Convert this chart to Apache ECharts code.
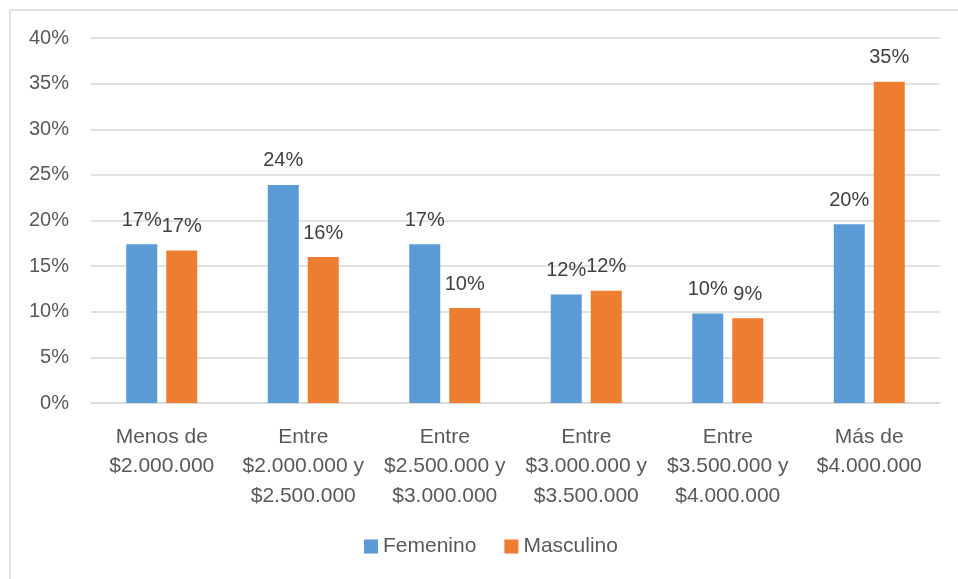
<!DOCTYPE html>
<head>
    <meta charset="utf-8">
    <title>Ingresos por sexo</title>
    <script src="https://cdn.jsdelivr.net/npm/echarts@6/dist/echarts.min.js"></script>
</head>
<body style="margin:0">
<div id="main" style="width:958px;height:579px"></div>
<script type="text/javascript">
var categories = ['Menos de\n$2.000.000', 'Entre\n$2.000.000 y\n$2.500.000', 'Entre\n$2.500.000 y\n$3.000.000',
                  'Entre\n$3.000.000 y\n$3.500.000', 'Entre\n$3.500.000 y\n$4.000.000', 'Más de\n$4.000.000'];
var femenino = [17.4, 23.9, 17.4, 11.9, 9.8, 19.6];
var masculino = [16.7, 16.0, 10.4, 12.3, 9.3, 35.2];
var yTicks = [0, 5, 10, 15, 20, 25, 30, 35, 40];

var font = 'Liberation Sans, sans-serif';
var myChart = echarts.init(document.getElementById('main'));
var option = {
    animation: false,
    backgroundColor: '#fff',
    graphic: [{
        type: 'rect', shape: {x: 10, y: 10, width: 960, height: 580},
        style: {fill: 'none', stroke: '#d9d9d9', lineWidth: 1.5}, silent: true
    }],
    grid: {left: 91, right: 18, top: 38, bottom: 176},
    legend: {
        top: 531, left: 359, itemWidth: 14, itemHeight: 14, itemGap: 28,
        icon: 'rect',
        textStyle: {fontFamily: font, fontSize: 21, color: '#595959'},
        data: ['Femenino', 'Masculino']
    },
    xAxis: {
        type: 'category',
        data: categories,
        axisLine: {lineStyle: {color: '#d9d9d9', width: 1.5}},
        axisTick: {show: false},
        axisLabel: {fontFamily: font, fontSize: 21, color: '#595959', lineHeight: 29.5, margin: 19, interval: 0}
    },
    yAxis: {
        type: 'value', min: 0, max: 40, interval: 5,
        axisLabel: {fontFamily: font, fontSize: 20, color: '#595959', margin: 22,
            formatter: function (v) { return yTicks.indexOf(v) >= 0 ? v + '%' : ''; }},
        splitLine: {lineStyle: {color: '#d9d9d9', width: 1.5}}
    },
    series: [
        {
            name: 'Femenino', type: 'bar', data: femenino, barWidth: 31, barGap: '29%',
            itemStyle: {color: '#5b9bd5'},
            label: {show: true, position: 'top', distance: 14, fontFamily: font, fontSize: 20, color: '#404040',
                formatter: function (p) { return Math.round(p.value) + '%'; }}
        },
        {
            name: 'Masculino', type: 'bar', data: masculino, barWidth: 31,
            itemStyle: {color: '#ed7d31'},
            label: {show: true, position: 'top', distance: 14, fontFamily: font, fontSize: 20, color: '#404040',
                formatter: function (p) { return Math.round(p.value) + '%'; }}
        }
    ]
};
myChart.setOption(option);
</script>
</body>
